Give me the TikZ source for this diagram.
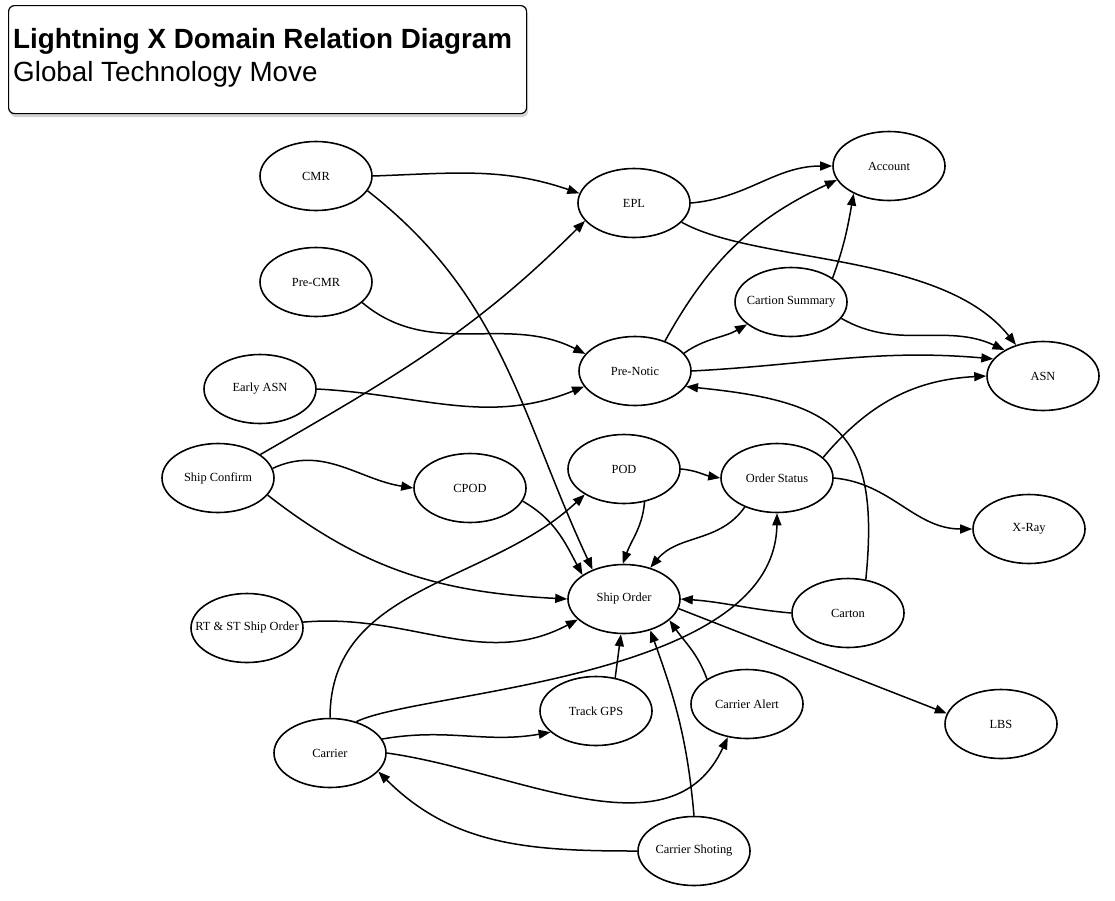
\documentclass[tikz,border=0pt]{standalone}
\usepackage{fontspec}
\setmainfont{Liberation Serif}
\newfontfamily\titlefont{Liberation Sans}
\usetikzlibrary{shapes.geometric,arrows.meta,shadows}
\newcommand\nodetxt[1]{\makebox[0pt]{#1}}
\begin{document}
\begin{tikzpicture}[x=1pt,y=1pt,
  ent/.style={ellipse, draw, line width=1.6pt, minimum width=112pt, minimum height=69pt, inner sep=0pt, font=\fontsize{12.4}{14}\selectfont},
  rel/.style={line width=1.5pt, -{Triangle[length=12pt,width=9pt]}},
  titlebox/.style={draw, line width=1.2pt, rounded corners=6pt, fill=white, minimum width=518pt, minimum height=108pt, inner sep=0pt, drop shadow={opacity=0.35, shadow xshift=1.5pt, shadow yshift=-3.5pt}},
  titletxt/.style={inner sep=0pt, anchor=base west, font=\titlefont\fontsize{27.8}{32}\selectfont}
  ]
\useasboundingbox (0,0) rectangle (1115,-900);
% title
\node[titlebox, anchor=north west] (tbox) at (8,-5) {};
\node[titletxt, font=\titlefont\bfseries\fontsize{27.8}{32}\selectfont] (title) at (13,-48) {Lightning X Domain Relation Diagram};
\node[titletxt] (subtitle) at (13,-81) {Global Technology Move};
% nodes
\node[ent] (CMR) at (316,-176) {\nodetxt{CMR}};
\node[ent] (EPL) at (634,-203) {\nodetxt{EPL}};
\node[ent] (Account) at (889,-166) {\nodetxt{Account}};
\node[ent] (PreCMR) at (316,-282) {\nodetxt{Pre-CMR}};
\node[ent] (CS) at (791,-302) {\nodetxt{Cartion Summary}};
\node[ent] (PN) at (635,-371) {\nodetxt{Pre-Notic}};
\node[ent] (ASN) at (1043,-376) {\nodetxt{ASN}};
\node[ent] (EarlyASN) at (260,-389) {\nodetxt{Early ASN}};
\node[ent] (SC) at (218,-478) {\nodetxt{Ship Confirm}};
\node[ent] (CPOD) at (470,-488) {\nodetxt{CPOD}};
\node[ent] (POD) at (624,-469) {\nodetxt{POD}};
\node[ent] (OS) at (777,-478) {\nodetxt{Order Status}};
\node[ent] (XRay) at (1029,-529) {\nodetxt{X-Ray}};
\node[ent] (SO) at (624,-599) {\nodetxt{Ship Order}};
\node[ent] (Carton) at (848,-613) {\nodetxt{Carton}};
\node[ent] (RT) at (247,-628) {\nodetxt{RT \& ST Ship Order}};
\node[ent] (LBS) at (1001,-724) {\nodetxt{LBS}};
\node[ent] (TGPS) at (596,-711) {\nodetxt{Track GPS}};
\node[ent] (CA) at (747,-704) {\nodetxt{Carrier Alert}};
\node[ent] (Carrier) at (330,-753) {\nodetxt{Carrier}};
\node[ent] (CSh) at (694,-851) {\nodetxt{Carrier Shoting}};
% connectors
\draw[rel] (CMR.east) to[out=2,in=161] (EPL.170);
\draw[rel] (CMR.-16) to[out=-38,in=115] (SO.137);
\draw[rel] (PreCMR.-24) to[out=-40,in=153] (PN.161);
\draw[rel] (EarlyASN.east) to[out=-3,in=202] (PN.197);
\draw[rel] (SC.29) to[out=30,in=225] (EPL.200);
\draw[rel] (SC.10) to[out=25,in=171] (CPOD.west);
\draw[rel] (SC.-19) to[out=-38,in=177] (SO.west);
\draw[rel] (RT.6) to[out=5,in=208] (SO.204);
\draw[rel] (CPOD.-14) to[out=-30,in=118] (SO.150);
\draw[rel] (Carrier.north) to[out=90,in=223] (POD.213);
\draw[rel] (POD.east) to[out=-5,in=170] (OS.west);
\draw[rel] (POD.-58) to[out=-95,in=70] (SO.92);
\draw[rel] (OS.222) to[out=235,in=50] (SO.50);
\draw[rel] (OS.24) to[out=50,in=183] (ASN.west);
\draw[rel] (OS.east) to[out=-5,in=180] (XRay.west);
\draw[rel] (Carton.62) .. controls +(15,150) and +(150,-15) .. (PN.-17);
\draw[rel] (Carton.west) to[out=175,in=-4] (SO.east);
\draw[rel] (SO.-10) -- (LBS.169);
\draw[rel] (EPL.east) to[out=5,in=180] (Account.west);
\draw[rel] (EPL.-22) .. controls +(76,-42) and +(-74,93) .. (ASN.131);
\draw[rel] (PN.45) to[out=61,in=205] (Account.195);
\draw[rel] (PN.20) to[out=35,in=210] (CS.207);
\draw[rel] (PN.east) to[out=3,in=175] (ASN.161);
\draw[rel] (CS.30) to[out=70,in=-100] (Account.218);
\draw[rel] (CS.-18) to[out=-30,in=155] (ASN.146);
\draw[rel] (Carrier.50) .. controls +(63,31) and +(-2,-167) .. (OS.south);
\draw[rel] (Carrier.15) to[out=10,in=190] (TGPS.205);
\draw[rel] (Carrier.east) to[out=-8,in=-115] (CA.240);
\draw[rel] (TGPS.60) -- (SO.265);
\draw[rel] (CSh.north) to[out=95,in=-70] (SO.-50);
\draw[rel] (CA.148) to[out=110,in=-55] (SO.-25);
\draw[rel] (CSh.west) to[out=180,in=-45] (Carrier.-21);
\end{tikzpicture}
\end{document}
